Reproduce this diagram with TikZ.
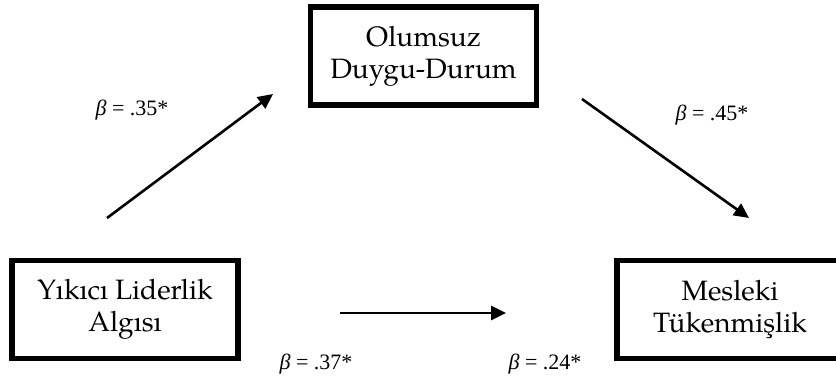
\documentclass[tikz,border=0pt]{standalone}
\usepackage{fontspec}
\setmainfont{TeX Gyre Pagella}
\newfontfamily\tms{Liberation Serif}
\usetikzlibrary{arrows.meta}
\begin{document}
\begin{tikzpicture}[x=1pt,y=-1pt,
  varbox/.style={draw=black,line width=5.5pt,minimum width=226pt,minimum height=98pt,
    inner sep=0pt,align=center,font=\fontsize{28}{32}\selectfont},
  coef/.style={inner sep=0pt,font=\tms\fontsize{22}{26}\selectfont},
  path/.style={line width=2.6pt,-{Triangle[length=15pt,width=14pt]}}]
\clip (0,0) rectangle (836,380);
\fill[white] (0,0) rectangle (836,380);
\node[varbox] (od) at (423.5,56) {Olumsuz\\Duygu-Durum};
\node[varbox] (yl) at (125,309.5) {Yıkıcı Liderlik\\Algısı};
\node[varbox] (mt) at (730,309.5) {Mesleki\\Tükenmişlik};
\coordinate (a1s) at (107,218);
\coordinate (a1e) at (273,94);
\coordinate (a2s) at (582,99);
\coordinate (a2e) at (749,218);
\coordinate (a3s) at (340,313);
\coordinate (a3e) at (506,313);
\draw[path] (a1s) -- (a1e);
\draw[path] (a2s) -- (a2e);
\draw[path] (a3s) -- (a3e);
\node[coef] (b1) at (132,110) {{\itshape β} = .35*};
\node[coef] (b2) at (712,115) {{\itshape β} = .45*};
\node[coef] (b3) at (316,364) {{\itshape β} = .37*};
\node[coef] (b4) at (545,364) {{\itshape β} = .24*};
\end{tikzpicture}
\end{document}
